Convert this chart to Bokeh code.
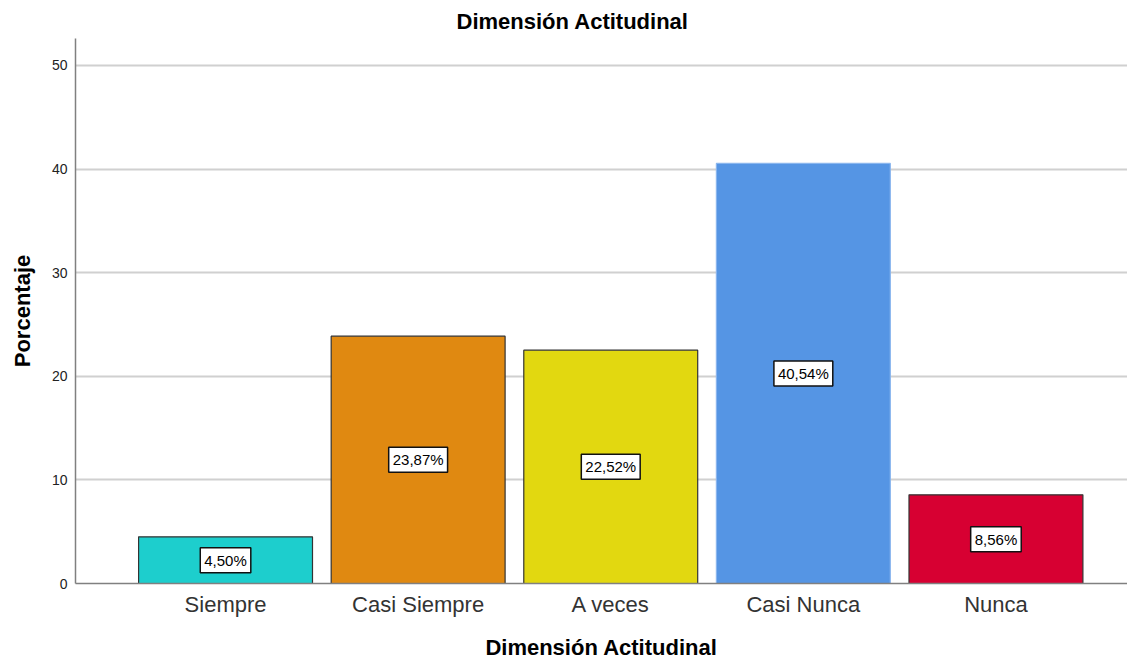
from bokeh.plotting import figure
from bokeh.models import ColumnDataSource, Range1d, FixedTicker, Title
from bokeh.core.properties import value
from bokeh.embed import file_html
from bokeh.resources import INLINE

categories = ["Siempre", "Casi Siempre", "A veces", "Casi Nunca", "Nunca"]
percentages = [4.50, 23.87, 22.52, 40.54, 8.56]
colors = ["#1DCECD", "#E08911", "#E2D810", "#5595E4", "#D70032"]
outline_colors = ["#333333", "#333333", "#333333", "#8AB6EE", "#333333"]
y_ticks = [0, 10, 20, 30, 40, 50]

xs = list(range(len(categories)))
labels = [f"{v:.2f}".replace(".", ",") + "%" for v in percentages]
mids = [v / 2 for v in percentages]

src = ColumnDataSource(dict(x=xs, top=percentages, color=colors, lc=outline_colors,
                            label=labels, mid=mids))

FONT = "Liberation Sans"

p = figure(frame_width=1052, frame_height=545, output_backend="svg", toolbar_location=None,
           x_range=Range1d(-0.779, 4.683), y_range=Range1d(0, 52.6),
           min_border_left=75, min_border_right=0, min_border_top=38,
           min_border_bottom=10)
p.title = Title(text="Dimensión Actitudinal", align="left", offset=381,
                text_font=FONT, text_font_size="22px", text_font_style="bold",
                text_color="#000000", standoff=10)
p.outline_line_color = None
p.background_fill_color = "white"

p.vbar(x="x", top="top", bottom=0, width=0.903, fill_color="color",
       line_color="lc", line_width=1.2, source=src)

p.text(x="x", y="mid", text="label", source=src, text_align="center",
       text_baseline="middle", text_font=value(FONT), text_font_size="15px",
       text_color="#000000", background_fill_color="white",
       border_line_color="#111111", border_line_width=1.5, padding=4)

# axes
p.xaxis.ticker = FixedTicker(ticks=xs)
p.xaxis.major_label_overrides = {i: c for i, c in enumerate(categories)}
p.xaxis.major_label_text_font = FONT
p.xaxis.major_label_text_font_size = "22px"
p.xaxis.major_label_text_color = "#333333"
p.xaxis.major_label_standoff = 8
p.xaxis.axis_label = "Dimensión Actitudinal"
p.xaxis.axis_label_text_font = FONT
p.xaxis.axis_label_text_font_size = "22px"
p.xaxis.axis_label_text_font_style = "bold"
p.xaxis.axis_label_text_color = "#000000"
p.xaxis.axis_label_standoff = 15

p.yaxis.ticker = FixedTicker(ticks=y_ticks)
p.yaxis.major_label_text_font = FONT
p.yaxis.major_label_text_font_size = "14px"
p.yaxis.major_label_text_color = "#222222"
p.yaxis.major_label_standoff = 8
p.yaxis.axis_label = "Porcentaje"
p.yaxis.axis_label_text_font = FONT
p.yaxis.axis_label_text_font_size = "22px"
p.yaxis.axis_label_text_font_style = "bold"
p.yaxis.axis_label_text_color = "#000000"
p.yaxis.axis_label_standoff = 14

for ax in (p.xaxis, p.yaxis):
    ax.major_tick_line_color = None
    ax.minor_tick_line_color = None
    ax.major_tick_out = 0
    ax.major_tick_in = 0
    ax.axis_line_color = "#808080"
    ax.axis_line_width = 1.5

p.xgrid.grid_line_color = None
p.ygrid.grid_line_color = "#D0D0D0"
p.ygrid.grid_line_width = 2

open("out.html", "w").write(file_html(p, INLINE))
